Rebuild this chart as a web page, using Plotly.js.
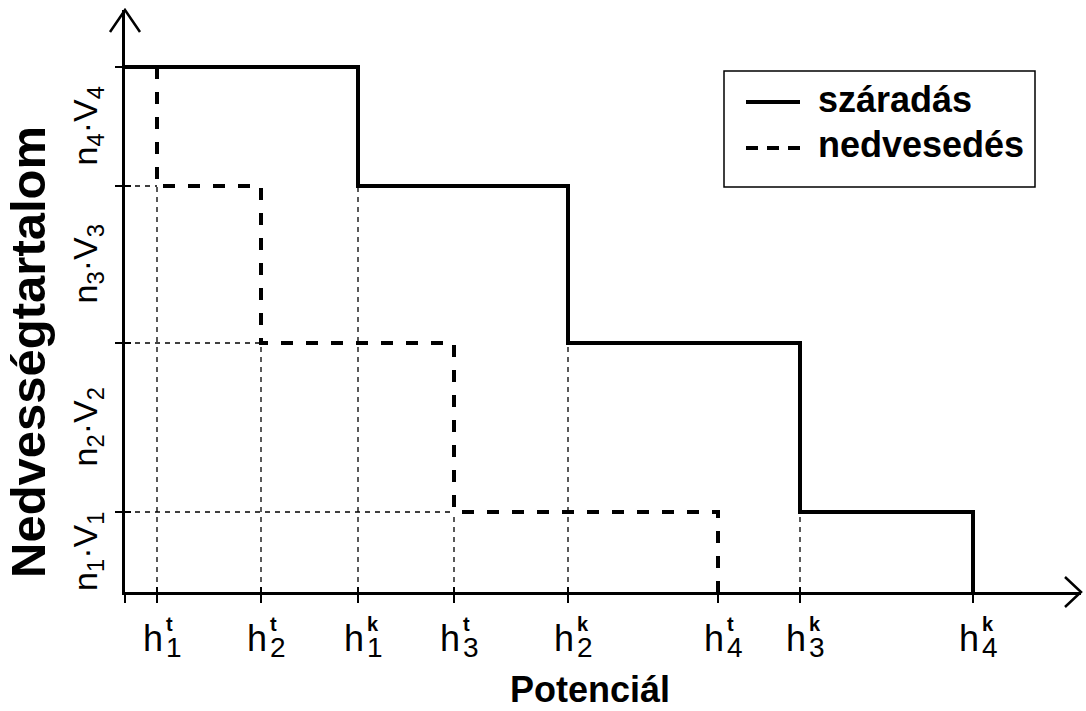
<!DOCTYPE html>
<html>
<head>
<meta charset="utf-8">
<script src="https://cdn.plot.ly/plotly-3.0.1.min.js"></script>
<style>html,body{margin:0;padding:0;background:#fff;}</style>
</head>
<body>
<div id="chart" style="width:1086px;height:711px;"></div>
<script>
// Threshold potentials: wetting (t) and drying (k) for each pore class
const hWet = [3.2, 13.6, 32.9, 59.3];
const hDry = [23.3, 44.3, 67.5, 84.8];
const wetSup = 't';
const drySup = 'k';
const hSubs = ['1', '2', '3', '4'];

// Cumulative moisture content levels
const levels = [8.0, 24.9, 40.6, 52.5];
const levelLabels = [
  'n<sub>1</sub>·V<sub>1</sub>',
  'n<sub>2</sub>·V<sub>2</sub>',
  'n<sub>3</sub>·V<sub>3</sub>',
  'n<sub>4</sub>·V<sub>4</sub>'
];

const seriesNames = ['száradás', 'nedvesedés'];
const xTitle = 'Potenciál';
const yTitle = 'Nedvességtartalom';

// Axis extents (arrow tips)
const xMax = 95.6;
const yMax = 58.2;

const FONT = 'Liberation Sans, Arial, Helvetica, sans-serif';
const W = 1086, H = 711;
const M = {l: 125, r: 5, t: 10, b: 119};
const plotW = W - M.l - M.r, plotH = H - M.t - M.b;
const px2x = px => (px - M.l) / plotW;
const py2y = py => (H - M.b - py) / plotH;

// Step curve: starts at top level, drops one level at each threshold
function stepCurve(h, x0) {
  const top = levels[levels.length - 1];
  const xs = [x0], ys = [top];
  for (let i = 0; i < h.length; i++) {
    const upper = levels[levels.length - 1 - i];
    const lower = i < h.length - 1 ? levels[levels.length - 2 - i] : 0;
    xs.push(h[i], h[i]);
    ys.push(upper, lower);
  }
  return {xs, ys};
}
const dry = stepCurve(hDry, 0);
const wet = stepCurve(hWet, hWet[0]);

// Thin reference lines from the corners down to the axes
const gx = [], gy = [];
for (let i = 0; i < levels.length - 1; i++) {
  const lv = levels[levels.length - 2 - i];
  gx.push(hWet[i], hWet[i], null, hDry[i], hDry[i], null, 0, hWet[i], null);
  gy.push(0, lv, null, 0, lv, null, lv, lv, null);
}

const traces = [
  {x: gx, y: gy, mode: 'lines', line: {color: '#000', width: 1.3, dash: '5px,5px'},
   hoverinfo: 'skip', showlegend: false},
  {x: dry.xs, y: dry.ys, name: seriesNames[0], mode: 'lines', xaxis: 'x2', yaxis: 'y2',
   line: {color: '#000', width: 4}, showlegend: false},
  {x: wet.xs, y: wet.ys, name: seriesNames[1], mode: 'lines', xaxis: 'x2', yaxis: 'y2',
   line: {color: '#000', width: 4, dash: '12px,13px'}, showlegend: false}
];

const xTicks = [0].concat(hWet, hDry);
const baseAxis = {showgrid: false, zeroline: false, showticklabels: false, fixedrange: true};

const annotations = [];
// Tick labels under the potential axis: "h" with stacked super- and subscript
function addHLabel(x, sup, sub) {
  annotations.push({x, xref: 'x', y: 0, yref: 'paper', text: 'h', showarrow: false,
    xanchor: 'right', yanchor: 'middle', xshift: 8, yshift: -46,
    font: {family: FONT, size: 36, color: '#000'}});
  annotations.push({x, xref: 'x', y: 0, yref: 'paper',
    text: '<b>' + sup + '</b><br><span style="font-size:28px">' + sub + '</span>',
    showarrow: false, align: 'left', xanchor: 'left', yanchor: 'middle',
    xshift: 7, yshift: -46,
    font: {family: FONT, size: 20, color: '#000'}});
}
hWet.forEach((v, i) => addHLabel(v, wetSup, hSubs[i]));
hDry.forEach((v, i) => addHLabel(v, drySup, hSubs[i]));

// Level labels centred between consecutive levels
const bounds = [0].concat(levels);
levelLabels.forEach((t, i) => {
  annotations.push({x: 0, xref: 'paper', y: (bounds[i] + bounds[i + 1]) / 2, yref: 'y',
    text: t, textangle: -90, showarrow: false, xanchor: 'center', yanchor: 'middle',
    xshift: -38, font: {family: FONT, size: 34, color: '#000'}});
});

// Axis titles
annotations.push({x: px2x(590), xref: 'paper', y: py2y(689), yref: 'paper', text: xTitle,
  showarrow: false, xanchor: 'center', yanchor: 'middle',
  font: {family: FONT, size: 36, color: '#000', weight: 'bold'}});
annotations.push({x: px2x(28), xref: 'paper', y: py2y(352), yref: 'paper', text: yTitle,
  textangle: -90, showarrow: false, xanchor: 'center', yanchor: 'middle',
  font: {family: FONT, size: 49, color: '#000', weight: 'bold'}});

// Legend drawn as a framed box
const legendRows = [102, 148];
const shapes = [
  {type: 'rect', xref: 'paper', yref: 'paper', x0: px2x(724), x1: px2x(1035),
   y0: py2y(71), y1: py2y(187), line: {color: '#000', width: 1.5}, fillcolor: '#fff'}
];
seriesNames.forEach((nm, i) => {
  shapes.push({type: 'line', xref: 'paper', yref: 'paper', x0: px2x(746), x1: px2x(800),
    y0: py2y(legendRows[i]), y1: py2y(legendRows[i]),
    line: {color: '#000', width: 4, dash: i === 0 ? 'solid' : '12px,9px'}});
  annotations.push({x: px2x(816), xref: 'paper', y: py2y(legendRows[i] - 3), yref: 'paper',
    text: nm, showarrow: false, xanchor: 'left', yanchor: 'middle',
    font: {family: FONT, size: 36, color: '#000', weight: 'bold'}});
});

// Open arrowheads at the ends of both axes (paper-anchored so they are not clipped)
shapes.push({type: 'path', xref: 'paper', yref: 'paper', xsizemode: 'pixel', ysizemode: 'pixel',
  xanchor: 1, yanchor: 0, path: 'M -16 -15 L 0 0 L -16 15',
  line: {color: '#000', width: 2.5}});
shapes.push({type: 'path', xref: 'paper', yref: 'paper', xsizemode: 'pixel', ysizemode: 'pixel',
  xanchor: 0, yanchor: 1, path: 'M -15 -22 L 0 0 L 15 -22',
  line: {color: '#000', width: 2.5}});

const layout = {
  width: W, height: H, margin: M,
  paper_bgcolor: '#fff', plot_bgcolor: '#fff',
  showlegend: false,
  xaxis: Object.assign({}, baseAxis, {range: [0, xMax], showline: true, linecolor: '#000',
    linewidth: 3, ticks: 'outside', ticklen: 8, tickwidth: 2, tickcolor: '#000',
    tickmode: 'array', tickvals: xTicks}),
  yaxis: Object.assign({}, baseAxis, {range: [0, yMax], showline: true, linecolor: '#000',
    linewidth: 3, ticks: 'outside', ticklen: 7, tickwidth: 2, tickcolor: '#000',
    tickmode: 'array', tickvals: levels}),
  xaxis2: Object.assign({}, baseAxis, {range: [0, xMax], overlaying: 'x', anchor: 'y2',
    ticks: 'inside', ticklen: 5, tickwidth: 2, tickcolor: '#000',
    tickmode: 'array', tickvals: xTicks}),
  yaxis2: Object.assign({}, baseAxis, {range: [0, yMax], overlaying: 'y', anchor: 'x2',
    ticks: 'inside', ticklen: 6, tickwidth: 2, tickcolor: '#000',
    tickmode: 'array', tickvals: levels}),
  annotations, shapes
};

Plotly.newPlot('chart', traces, layout, {displayModeBar: false, staticPlot: true});
</script>
</body>
</html>
